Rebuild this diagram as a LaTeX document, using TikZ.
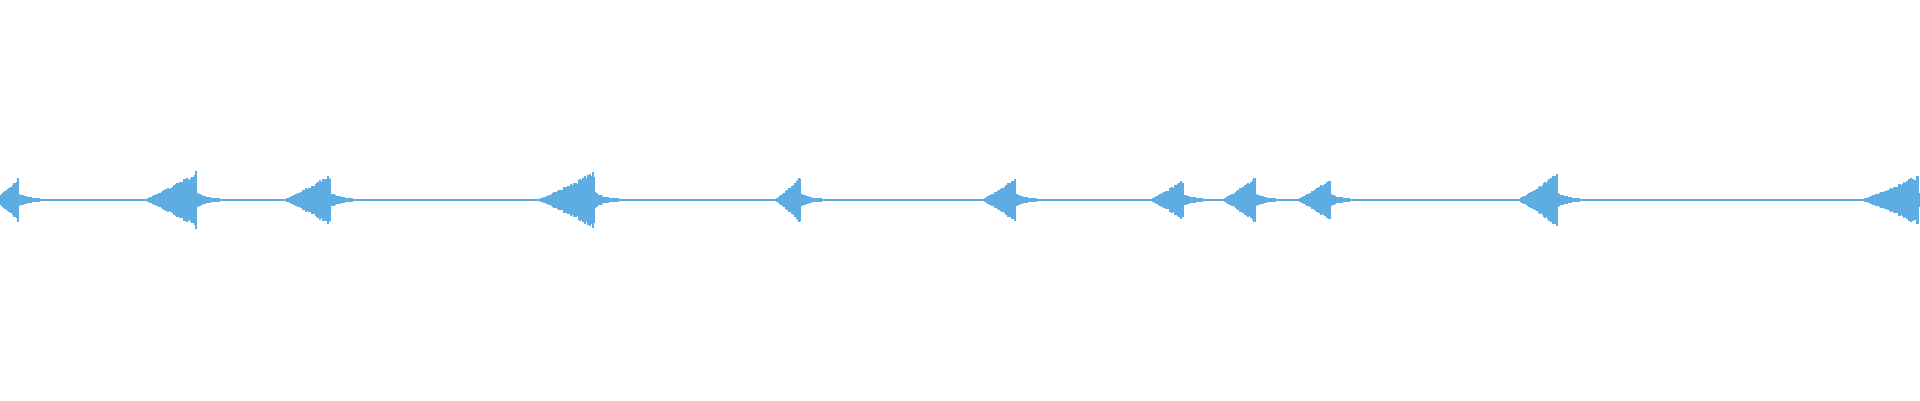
\documentclass[tikz,border=0pt]{standalone}
\definecolor{wave}{RGB}{93,173,226}
\begin{document}
\begin{tikzpicture}[x=1pt,y=1pt,bar/.style={wave,line width=1.3pt}]
\pgfmathsetseed{7}
\useasboundingbox (0,0) rectangle (1920,400);
\begin{scope}
\clip (0,0) rectangle (1920,400);
\draw[wave,line width=1.2pt] (0,200) -- (1920,200);
\foreach \p/\L/\A in {18/22/22,196/50/28,330/45/25,594/55/28,800/24/22,1015/32/22,1183/32/20,1255/32/22,1330/32/20,1557/38/26,1918/55/24}{
  \foreach \i in {-\L,...,0}{
    \pgfmathsetmacro\h{\A*((\i+\L)/\L)^1.1*(0.78+0.22*rnd)+1}
    \draw[bar] (\p+\i,200-\h) -- (\p+\i,200+\h);
  }
  \foreach \i in {1,...,40}{
    \pgfmathsetmacro\h{\A*0.3*exp(-\i/10)*(0.75+0.25*rnd)+0.8}
    \draw[bar] (\p+\i,200-\h) -- (\p+\i,200+\h);
  }
}
\end{scope}
\end{tikzpicture}
\end{document}
